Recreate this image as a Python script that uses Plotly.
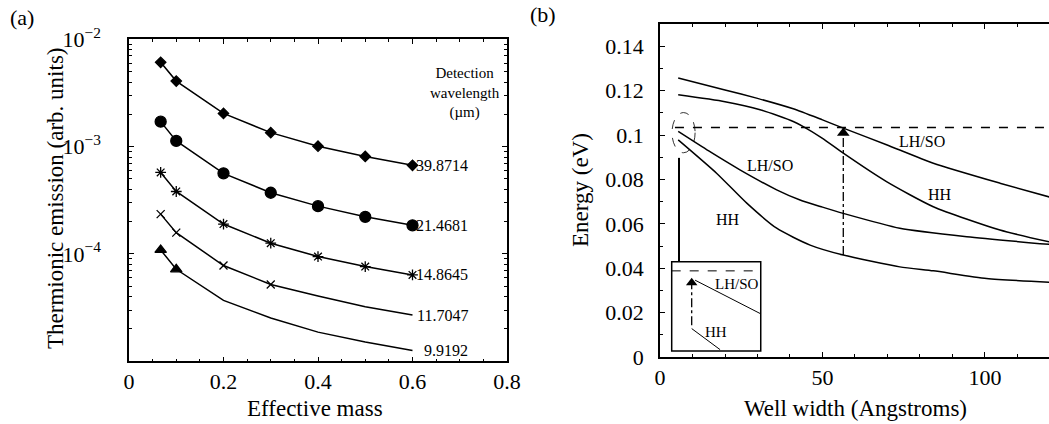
import math
import plotly.graph_objects as go

W, H = 1049, 424
FONT = "Liberation Serif"

# ---------------- Panel (a) data ----------------
effective_mass = [0.067, 0.1, 0.2, 0.3, 0.4, 0.5, 0.6]
wavelength_labels = ["39.8714", "21.4681", "14.8645", "11.7047", "9.9192"]
emission_39 = [6.1e-3, 4.08e-3, 2.04e-3, 1.35e-3, 1.01e-3, 8.1e-4, 6.7e-4]
emission_21 = [1.71e-3, 1.13e-3, 5.64e-4, 3.72e-4, 2.79e-4, 2.22e-4, 1.85e-4]
emission_14 = [5.75e-4, 3.82e-4, 1.90e-4, 1.26e-4, 9.46e-5, 7.63e-5, 6.38e-5]
emission_11 = [2.35e-4, 1.58e-4, 7.8e-5, 5.2e-5, 4.06e-5, 3.23e-5, 2.7e-5]
emission_9 = [1.09e-4, 7.2e-5, 3.69e-5, 2.53e-5, 1.87e-5, 1.51e-5, 1.26e-5]
marker_counts = [7, 7, 7, 4, 2]  # how many points carry a marker
marker_symbols = ["diamond", "circle", "asterisk-open", "x-thin-open", "triangle-up"]
marker_sizes = [8, 11, 9, 8, 10]

# ---------------- Panel (b) data ----------------
wA_x = [5.6, 20, 30, 41, 50, 56.4, 69.7, 84.1, 104.6, 120]
wA_y = [0.1257, 0.1203, 0.1165, 0.1118, 0.1068, 0.1031, 0.0956, 0.0873, 0.0783, 0.0720]
wB_x = [5.6, 20, 30.8, 41, 44.1, 50, 56.4, 69.7, 84.1, 104.6, 120]
wB_y = [0.1181, 0.1150, 0.1114, 0.1061, 0.1038, 0.0985, 0.0918, 0.0790, 0.0677, 0.0572, 0.0518]
wC_x = [5.6, 15, 24.6, 35.9, 43.1, 50, 56.4, 73.8, 94.4, 120]
wC_y = [0.1016, 0.0928, 0.0843, 0.0753, 0.0707, 0.0675, 0.0647, 0.0580, 0.0542, 0.0507]
wD_x = [5.6, 17.4, 26.7, 35.9, 46.2, 56.4, 73.8, 84.1, 100.5, 120]
wD_y = [0.0978, 0.0828, 0.0693, 0.0580, 0.0504, 0.0459, 0.0406, 0.0388, 0.0354, 0.0337]
detect_energy = 0.1034
transition_x = 56.4

# inset schematic (data coords of panel b)
inset_box = [3.6, 31.0, 0.0027, 0.0429]
inset_dash_y = 0.0388
inset_arrow = [9.75, 0.0143, 0.0334]
inset_lh = [10.8, 0.0346, 30.8, 0.0196]
inset_hh = [9.75, 0.0128, 18.5, 0.0033]


def px(x):
    return x / W


def py(y):
    return 1 - y / H


fig = go.Figure()

series = [emission_39, emission_21, emission_14, emission_11, emission_9]
for vals, n, sym, sz in zip(series, marker_counts, marker_symbols, marker_sizes):
    fig.add_trace(go.Scatter(x=effective_mass, y=vals, mode="lines", xaxis="x", yaxis="y",
                             line=dict(color="black", width=1.5), showlegend=False))
    fig.add_trace(go.Scatter(x=effective_mass[:n], y=vals[:n], mode="markers", xaxis="x", yaxis="y",
                             marker=dict(symbol=sym, size=sz, color="black",
                                         line=dict(color="black", width=1.3)),
                             showlegend=False))

for xs, ys in [(wA_x, wA_y), (wB_x, wB_y), (wC_x, wC_y), (wD_x, wD_y)]:
    fig.add_trace(go.Scatter(x=xs, y=ys, mode="lines", xaxis="x2", yaxis="y2",
                             line=dict(color="black", width=1.5, shape="spline", smoothing=0.6),
                             showlegend=False))

# transition arrow (dash-dot) with triangle head
fig.add_trace(go.Scatter(x=[transition_x, transition_x], y=[wD_y[5], detect_energy - 0.001],
                         mode="lines", xaxis="x2", yaxis="y2",
                         line=dict(color="black", width=1.3, dash="dashdot"), showlegend=False))
fig.add_trace(go.Scatter(x=[transition_x], y=[detect_energy - 0.0025], mode="markers",
                         xaxis="x2", yaxis="y2",
                         marker=dict(symbol="triangle-up", size=11, color="black"), showlegend=False))
# inset arrow
fig.add_trace(go.Scatter(x=[inset_arrow[0], inset_arrow[0]], y=[inset_arrow[1], inset_arrow[2]],
                         mode="lines", xaxis="x2", yaxis="y2",
                         line=dict(color="black", width=1.3, dash="dashdot"), showlegend=False))
fig.add_trace(go.Scatter(x=[inset_arrow[0]], y=[inset_arrow[2]], mode="markers",
                         xaxis="x2", yaxis="y2",
                         marker=dict(symbol="triangle-up", size=10, color="black"), showlegend=False))

shapes = [
    dict(type="line", xref="x2", yref="y2", x0=4.6, x1=120, y0=detect_energy, y1=detect_energy,
         line=dict(color="black", width=1.5, dash="dash")),
    dict(type="circle", xref="x2", yref="y2", x0=3.7, x1=10.8, y0=0.0920, y1=0.1101,
         line=dict(color="black", width=0.8, dash="dash")),
    dict(type="line", xref="x2", yref="y2", x0=5.85, x1=5.85, y0=0.0897, y1=inset_box[3],
         line=dict(color="black", width=2)),
    dict(type="rect", xref="x2", yref="y2", x0=inset_box[0], x1=inset_box[1],
         y0=inset_box[2], y1=inset_box[3], line=dict(color="black", width=1.5), layer="below"),
    dict(type="line", xref="x2", yref="y2", x0=inset_box[0], x1=inset_box[1],
         y0=inset_dash_y, y1=inset_dash_y, line=dict(color="black", width=1, dash="dash")),
    dict(type="line", xref="x2", yref="y2", x0=inset_lh[0], y0=inset_lh[1], x1=inset_lh[2], y1=inset_lh[3],
         line=dict(color="black", width=1)),
    dict(type="line", xref="x2", yref="y2", x0=inset_hh[0], y0=inset_hh[1], x1=inset_hh[2], y1=inset_hh[3],
         line=dict(color="black", width=1)),
]


def A(**kw):
    d = dict(showarrow=False, xanchor="center", yanchor="middle")
    d.update(kw)
    return d


ann = []
for lab, vals in zip(wavelength_labels, series):
    ann.append(A(x=0.722, y=math.log10(vals[-1]), xref="x", yref="y", text=lab,
                 xanchor="right", font=dict(size=16)))
ann.append(A(x=px(465), y=py(93), xref="paper", yref="paper",
             text="Detection<br>wavelength<br>(\u00b5m)", font=dict(size=15), align="center"))
for t, x, y in [("LH/SO", 80.5, 0.097), ("HH", 86.2, 0.0733), ("LH/SO", 33.8, 0.0861), ("HH", 21, 0.062)]:
    ann.append(A(x=x, y=y, xref="x2", yref="y2", text=t, font=dict(size=16)))
ann.append(A(x=23.6, y=0.0331, xref="x2", yref="y2", text="LH/SO", font=dict(size=15)))
ann.append(A(x=17.2, y=0.0113, xref="x2", yref="y2", text="HH", font=dict(size=15)))
ann += [
    A(x=px(22), y=py(17), xref="paper", yref="paper", text="(a)", font=dict(size=22)),
    A(x=px(543), y=py(14), xref="paper", yref="paper", text="(b)", font=dict(size=22)),
    A(x=px(315), y=py(408), xref="paper", yref="paper", text="Effective mass", font=dict(size=23)),
    A(x=px(855), y=py(408), xref="paper", yref="paper", text="Well width (Angstroms)", font=dict(size=23)),
    A(x=px(55), y=py(198), xref="paper", yref="paper", text="Thermionic emission (arb. units)",
      textangle=-90, font=dict(size=23)),
    A(x=px(580), y=py(190), xref="paper", yref="paper", text="Energy (eV)",
      textangle=-90, font=dict(size=23)),
]

axis_common = dict(showline=True, linecolor="black", linewidth=1.5, ticks="inside", tickcolor="black",
                   ticklen=5, showgrid=False, zeroline=False, tickfont=dict(size=22), automargin=False)

log_minor = [m * 10 ** e for e in (-5, -4, -3) for m in range(2, 10)]

fig.update_layout(
    width=W, height=H, margin=dict(l=0, r=0, t=0, b=0, autoexpand=False),
    paper_bgcolor="white", plot_bgcolor="white",
    font=dict(family=FONT, color="black"),
    xaxis=dict(domain=[px(129), px(507)], range=[0, 0.8], anchor="y", mirror="ticks",
               tickvals=[0, 0.2, 0.4, 0.6, 0.8], ticktext=["0", "0.2", "0.4", "0.6", "0.8"],
               minor=dict(ticks="inside", ticklen=3, dtick=0.05, tickcolor="black"),
               ticklabelstandoff=0, **axis_common),
    yaxis=dict(domain=[py(361.3), py(39.3)], type="log", range=[-5, -2], anchor="x", mirror="ticks",
               tickvals=[1e-4, 1e-3, 1e-2],
               ticktext=["10<sup>\u22124</sup>", "10<sup>\u22123</sup>", "10<sup>\u22122</sup>"],
               minor=dict(ticks="inside", ticklen=3, tickmode="array", tickvals=log_minor, tickcolor="black"),
               ticklabelstandoff=22, **axis_common),
    xaxis2=dict(domain=[px(660), 1.0], range=[0, 119.7], anchor="y2", mirror="ticks",
                tickvals=[0, 50, 100], minor=dict(ticks="inside", ticklen=3, dtick=10, tickcolor="black"),
                ticklabelstandoff=0, **axis_common),
    yaxis2=dict(domain=[py(357), py(24)], range=[0, 0.15], anchor="x2",
                tickvals=[0, 0.02, 0.04, 0.06, 0.08, 0.1, 0.12, 0.14],
                ticktext=["0", "0.02", "0.04", "0.06", "0.08", "0.1", "0.12", "0.14"],
                minor=dict(ticks="inside", ticklen=3, dtick=0.01, tickcolor="black"),
                ticklabelstandoff=10, **axis_common),
    shapes=shapes, annotations=ann,
)

fig.write_html("out.html",
               post_script="document.body.style.margin='0';document.body.style.overflow='hidden';")
